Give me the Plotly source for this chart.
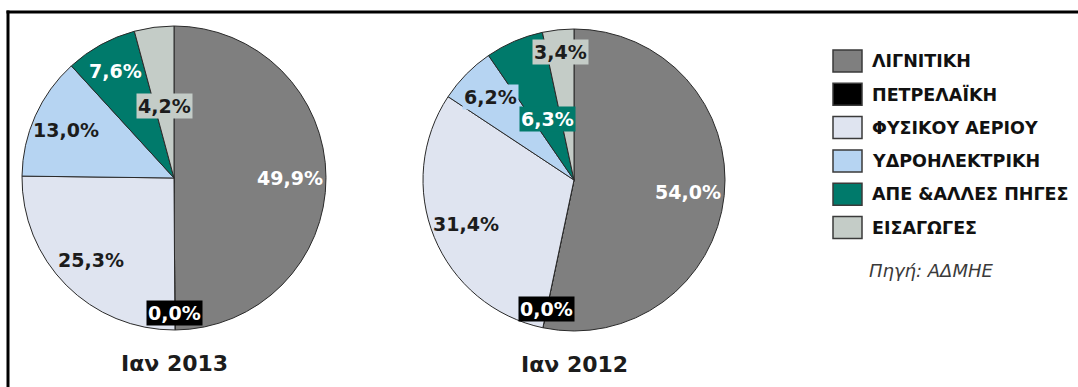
import math
import plotly.graph_objects as go

W, H = 1078, 387

categories = ["ΛΙΓΝΙΤΙΚΗ", "ΠΕΤΡΕΛΑΪΚΗ", "ΦΥΣΙΚΟΥ ΑΕΡΙΟΥ", "ΥΔΡΟΗΛΕΚΤΡΙΚΗ",
              "ΑΠΕ &ΑΛΛΕΣ ΠΗΓΕΣ", "ΕΙΣΑΓΩΓΕΣ"]
values_2013 = [49.9, 0.0, 25.3, 13.0, 7.6, 4.2]
values_2012 = [54.0, 0.0, 31.4, 6.2, 6.3, 3.4]
titles = ["Ιαν 2013", "Ιαν 2012"]
source_text = "Πηγή: ΑΔΜΗΕ"

colors = ["#7f7f7f", "#000000", "#dfe4f0", "#b6d4f2", "#007a6b", "#c4ccc7"]
label_font_colors = ["#ffffff", "#ffffff", "#1c1c1c", "#1c1c1c", "#ffffff", "#1c1c1c"]
# radial placement of each label (fraction of radius), per pie
label_radius_2013 = [0.76, 0.89, 0.77, 0.78, 0.80, 0.48]
label_radius_2012 = [0.76, 0.87, 0.77, 0.78, 0.44, 0.85]
# whether label has a visible box
label_box_2013 = [False, True, False, False, False, True]
label_box_2012 = [False, True, False, True, True, True]

# pie geometry in pixels (center x, center y, radius)
pies = [
    dict(values=values_2013, cx=174, cy=178, r=152, fr=label_radius_2013, box=label_box_2013, title=titles[0]),
    dict(values=values_2012, cx=574, cy=180, r=151, fr=label_radius_2012, box=label_box_2012, title=titles[1]),
]

LABEL_FONT = "DejaVu Sans"

fig = go.Figure()
annotations = []
shapes = []

def px(x):
    return x / W

def py(y):
    return 1 - y / H

for p in pies:
    cx, cy, r = p["cx"], p["cy"], p["r"]
    fig.add_trace(go.Pie(
        labels=categories, values=p["values"], sort=False, direction="clockwise",
        rotation=0, marker=dict(colors=colors, line=dict(color="#2a2a2a", width=1)),
        textinfo="none", hoverinfo="label+value", showlegend=False,
        domain=dict(x=[px(cx - r), px(cx + r)], y=[py(cy + r), py(cy - r)]),
    ))
    total = sum(p["values"])
    cum = 0.0
    for i, v in enumerate(p["values"]):
        mid = (cum + v / 2) / total * 2 * math.pi
        cum += v
        f = p["fr"][i]
        lx = cx + f * r * math.sin(mid)
        ly = cy - f * r * math.cos(mid)
        txt = f"{v:.1f}%".replace(".", ",")
        annotations.append(dict(
            x=px(lx), y=py(ly), xref="paper", yref="paper", text=f"<b>{txt}</b>",
            showarrow=False, font=dict(family=LABEL_FONT, size=19, color=label_font_colors[i]),
            bgcolor=colors[i] if p["box"][i] else "rgba(0,0,0,0)", borderpad=1,
            xanchor="center", yanchor="middle",
        ))
    annotations.append(dict(
        x=px(cx), y=py(cy + r + 33), xref="paper", yref="paper", text=f"<b>{p['title']}</b>",
        showarrow=False, font=dict(family=LABEL_FONT, size=22, color="#1c1c1c"),
        xanchor="center", yanchor="middle",
    ))

# custom legend
leg_x0, leg_y0, leg_dy = 833, 61, 33.3
for i, cat in enumerate(categories):
    yc = leg_y0 + i * leg_dy
    shapes.append(dict(type="rect", xref="paper", yref="paper",
                       x0=px(leg_x0), x1=px(leg_x0 + 29), y0=py(yc + 11), y1=py(yc - 11),
                       fillcolor=colors[i], line=dict(color="#3a3a3a", width=1.5)))
    annotations.append(dict(
        x=px(leg_x0 + 37), y=py(yc), xref="paper", yref="paper", text=f"<b>{cat}</b>",
        showarrow=False, font=dict(family="DejaVu Sans", size=17.5, color="#111111"),
        xanchor="left", yanchor="middle",
    ))
annotations.append(dict(
    x=px(867), y=py(270), xref="paper", yref="paper", text=f"<i>{source_text}</i>",
    showarrow=False, font=dict(family="DejaVu Sans", size=18, style="italic", color="#3a3a3a"),
    xanchor="left", yanchor="middle",
))

# frame (left and top edges)
shapes.append(dict(type="line", xref="paper", yref="paper", x0=px(8), x1=px(8), y0=0, y1=py(10.5),
                   line=dict(color="black", width=3)))
shapes.append(dict(type="line", xref="paper", yref="paper", x0=px(6.5), x1=1, y0=py(12), y1=py(12),
                   line=dict(color="black", width=3)))

fig.update_layout(
    width=W, height=H, margin=dict(l=0, r=0, t=0, b=0),
    paper_bgcolor="white", plot_bgcolor="white",
    annotations=annotations, shapes=shapes,
)

fig.write_html("out.html", config={"displayModeBar": False},
               post_script="document.body.style.margin='0';document.body.style.overflow='hidden';")
